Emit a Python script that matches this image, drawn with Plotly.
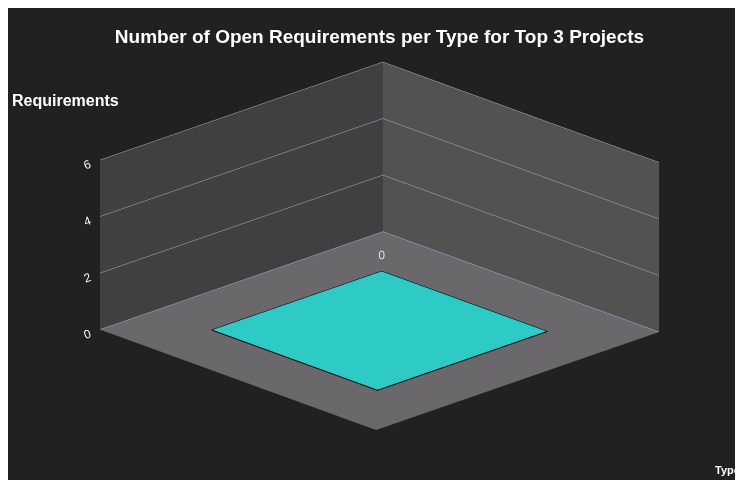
import plotly.graph_objects as go

# data: one requirement type, one project series, zero open requirements
types = ["Requirement"]
projects = ["Top 3 Projects"]
open_counts = [0]
z_ticks = [0, 2, 4, 6]

bar_half = 0.3
bar_color = "#2ecac5"
bg = "#212220"
grid_col = "#b3acd9"

fig = go.Figure()

for i, t in enumerate(types):
    for j, p in enumerate(projects):
        v = open_counts[i]
        x0, x1 = i - bar_half, i + bar_half
        y0, y1 = j - bar_half, j + bar_half
        fig.add_trace(go.Mesh3d(
            x=[x0, x1, x1, x0, x0, x1, x1, x0],
            y=[y0, y0, y1, y1, y0, y0, y1, y1],
            z=[0, 0, 0, 0, v, v, v, v],
            i=[0, 0, 4, 4, 0, 0, 1, 1, 2, 2, 3, 3],
            j=[1, 2, 5, 6, 1, 5, 2, 6, 3, 7, 0, 4],
            k=[2, 3, 6, 7, 5, 4, 6, 5, 7, 6, 4, 7],
            color=bar_color, opacity=1, flatshading=True,
            lighting=dict(ambient=1, diffuse=0, specular=0, fresnel=0),
            hoverinfo="skip", showscale=False, name=p
        ))
        # outline of the bar top
        fig.add_trace(go.Scatter3d(
            x=[x0, x1, x1, x0, x0], y=[y0, y0, y1, y1, y0], z=[v] * 5,
            mode="lines", line=dict(color="black", width=2),
            hoverinfo="skip", showlegend=False
        ))
        # value label
        fig.add_trace(go.Scatter3d(
            x=[x0], y=[y0], z=[v], mode="text", text=[str(v)],
            textposition="top center",
            textfont=dict(color="#e8e8e8", size=12, family="Liberation Sans"),
            hoverinfo="skip", showlegend=False
        ))

axis_common = dict(showspikes=False, showline=False, zeroline=False, title="")

fig.update_layout(
    width=743, height=480,
    paper_bgcolor=bg,
    margin=dict(l=0, r=0, t=0, b=0),
    showlegend=False,
    title=dict(
        text="<b>Number of Open Requirements per Type for Top 3 Projects</b>",
        x=0.5, y=0.94, xanchor="center", yanchor="middle",
        font=dict(family="Liberation Sans", size=19, color="white")
    ),
    scene=dict(
        domain=dict(x=[0, 1], y=[0.054, 0.954]),
        xaxis=dict(range=[-0.5, len(types) - 0.5], showgrid=False, showticklabels=False,
                   showbackground=True, backgroundcolor="#525351", **axis_common),
        yaxis=dict(range=[-0.5, len(projects) - 0.5], showgrid=False, showticklabels=False,
                   showbackground=True, backgroundcolor="#404040", **axis_common),
        zaxis=dict(range=[0, max(z_ticks)], tickvals=z_ticks, showgrid=True,
                   gridcolor=grid_col, gridwidth=1, ticksuffix="      ",
                   tickfont=dict(family="Liberation Sans", size=12, color="white"),
                   showbackground=True, backgroundcolor="#6a686b", **axis_common),
        aspectmode="manual",
        aspectratio=dict(x=1.83, y=1.83, z=0.84),
        camera=dict(eye=dict(x=1.045, y=1.071, z=0.568),
                    projection=dict(type="orthographic")),
    ),
    annotations=[
        dict(text="<b>Requirements</b>", x=0.003, y=0.807, xref="paper", yref="paper",
             xanchor="left", yanchor="middle", showarrow=False,
             font=dict(family="Liberation Sans", size=16, color="white")),
        dict(text="<b>Type</b>", x=0.988, y=0.0375, xref="paper", yref="paper",
             xanchor="right", yanchor="middle", showarrow=False,
             font=dict(family="Liberation Sans", size=11, color="white")),
    ],
)

fig.write_html("out.html")
